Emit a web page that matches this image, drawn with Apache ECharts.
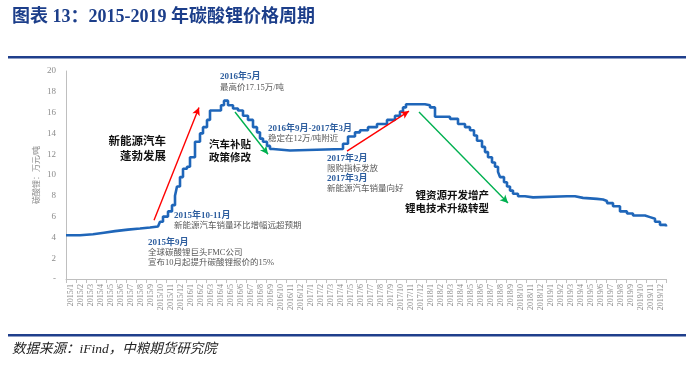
<!DOCTYPE html>
<html><head><meta charset="utf-8">
<script src="https://cdn.jsdelivr.net/npm/echarts@6/dist/echarts.min.js"></script>
<style>html,body{margin:0;padding:0;background:#fff}#c{width:700px;height:373px}</style>
</head><body><div id="c"></div>
<script>
const months = [
 '2015/1','2015/2','2015/3','2015/4','2015/5','2015/6','2015/7','2015/8','2015/9','2015/10','2015/11','2015/12',
 '2016/1','2016/2','2016/3','2016/4','2016/5','2016/6','2016/7','2016/8','2016/9','2016/10','2016/11','2016/12',
 '2017/1','2017/2','2017/3','2017/4','2017/5','2017/6','2017/7','2017/8','2017/9','2017/10','2017/11','2017/12',
 '2018/1','2018/2','2018/3','2018/4','2018/5','2018/6','2018/7','2018/8','2018/9','2018/10','2018/11','2018/12',
 '2019/1','2019/2','2019/3','2019/4','2019/5','2019/6','2019/7','2019/8','2019/9','2019/10','2019/11','2019/12'
];
const yTickLabels = ['-','2','4','6','8','10','12','14','16','18','20'];
// position in months from start of 2015/1
const priceTime = [0,1.4,2.7,3.8,4.9,6.2,7.4,8.4,9.2,9.4,9.7,10.2,10.6,10.9,11.1,11.4,11.7,12.1,12.4,12.9,13.4,13.7,14.1,14.4,15.5,15.8,16.2,16.7,17.2,17.7,18.2,18.7,19.1,19.4,19.7,20.1,20.4,20.7,22.4,27.7,28.2,28.9,29.4,30.2,31.1,32.1,32.9,33.4,33.7,34.0,35.9,36.4,36.9,38.4,39.2,39.9,40.4,40.8,41.1,41.6,41.9,42.2,42.6,42.9,43.2,43.4,43.8,44.1,44.4,44.7,45.2,45.9,46.7,50.1,50.9,51.7,53.1,53.7,54.1,54.7,55.4,56.1,56.7,57.9,58.4,58.9,59.4,60];
const price = [4.2,4.3,4.45,4.6,4.75,4.85,4.95,5.05,5.1,5.5,6.0,6.5,7.1,8.0,8.9,9.8,10.6,10.8,11.7,13.2,14.0,14.6,15.3,16.2,16.7,17.15,16.7,16.4,16.2,15.7,15.3,14.6,14.1,13.5,13.2,12.8,12.5,12.35,12.5,13.0,13.7,14.1,14.3,14.6,14.9,15.3,15.7,16.1,16.5,16.8,16.7,16.5,15.6,15.4,14.9,14.6,14.3,13.8,13.3,12.7,12.2,11.7,11.2,10.8,10.3,9.8,9.3,8.9,8.5,8.2,7.95,7.85,7.95,7.95,7.8,7.7,7.65,7.5,7.3,7.0,6.5,6.3,6.1,5.95,5.8,5.5,5.2,5.05];
// trend arrows: [startTime, startValue, endTime, endValue, color]
const arrows = [
 [8.8,5.66,13.3,16.5,'#ff0000'],
 [16.9,16.06,20.2,12.0,'#00b050'],
 [28.1,12.3,34.3,16.15,'#ff0000'],
 [35.3,16.06,44.2,7.3,'#00b050']
];

const serif = '"Liberation Serif","Noto Sans CJK SC",serif';
const chart = echarts.init(document.getElementById('c'));
const heads = '#2f5f9f', gray = '#595959';
function txt(x,y,t,o){return {type:'text',style:Object.assign({x:x,y:y,text:t,font:'8.5px '+serif,fill:gray,textVerticalAlign:'middle'},o||{})};}
const head = {font:'bold 9px '+serif, fill:heads};
const bold1 = {font:'bold 11.5px '+serif, fill:'#111', lineHeight:15};
const bold2 = {font:'bold 10.5px '+serif, fill:'#111', lineHeight:12.5};
chart.setOption({
  animation:false,
  grid:{left:66,right:34,top:71,bottom:94},
  xAxis:[{
    type:'category',data:months,boundaryGap:true,
    axisLine:{lineStyle:{color:'#bfbfbf'}},
    axisTick:{show:true,interval:0,length:4,lineStyle:{color:'#bfbfbf'}},
    axisLabel:{interval:0,rotate:90,fontSize:8,color:'#8c8c8c',margin:5,fontFamily:serif}
  },{
    type:'value',min:0,max:60,show:false
  }],
  yAxis:{
    type:'value',min:0,max:20,interval:2,
    name:'碳酸锂：万元/吨',nameLocation:'middle',nameGap:25,nameRotate:90,nameMoveOverlap:false,
    nameTextStyle:{fontSize:8,color:'#8c8c8c',fontFamily:serif},
    axisLine:{show:true,lineStyle:{color:'#bfbfbf'}},axisTick:{show:false},splitLine:{show:false},
    axisLabel:{fontSize:9,color:'#8c8c8c',margin:10,fontFamily:serif,formatter:(v)=>yTickLabels[Math.round(v/2)]}
  },
  series:[{
    type:'line',xAxisIndex:1,step:'end',showSymbol:false,
    data:priceTime.map((t,i)=>[t,price[i]]),
    lineStyle:{color:'#1f66b9',width:2.6},
    markLine:{silent:true,symbol:['none','arrow'],symbolSize:[6,8],label:{show:false},
      data:arrows.map(a=>[{coord:[a[0],a[1]],lineStyle:{color:a[4],width:1.4,type:'solid'}},{coord:[a[2],a[3]]}])}
  }],
  graphic:[
    {type:'text',left:12,top:8,style:{text:'图表 13：2015-2019 年碳酸锂价格周期',font:'bold 18px '+serif,fill:'#1c3e8a'}},
    {type:'rect',shape:{x:8,y:56,width:678,height:2.5},style:{fill:'#1f3f8c'}},
    {type:'rect',shape:{x:8,y:334,width:678,height:2.5},style:{fill:'#1f3f8c'}},
    {type:'text',left:12,top:343,style:{text:'数据来源：iFind，中粮期货研究院',font:'italic 13.5px '+serif,fill:'#222'}},
    txt(166,149.5,'新能源汽车\n蓬勃发展',Object.assign({textAlign:'right'},bold1)),
    txt(209,152,'汽车补贴\n政策修改',bold2),
    txt(489,203,'锂资源开发增产\n锂电技术升级转型',Object.assign({textAlign:'right'},bold2)),
    txt(220,77,'2016年5月',head),
    txt(220,88,'最高价17.15万/吨'),
    txt(268,129,'2016年9月-2017年3月',head),
    txt(268,139,'稳定在12万/吨附近'),
    txt(174,216,'2015年10-11月',head),
    txt(174,226,'新能源汽车销量环比增幅远超预期'),
    txt(148,243,'2015年9月',head),
    txt(148,253,'全球碳酸锂巨头FMC公司'),
    txt(148,263,'宣布10月起提升碳酸锂报价的15%'),
    txt(327,159,'2017年2月',head),
    txt(327,169,'限购指标发放'),
    txt(327,179,'2017年3月',head),
    txt(327,189,'新能源汽车销量向好')
  ]
});
</script></body></html>
